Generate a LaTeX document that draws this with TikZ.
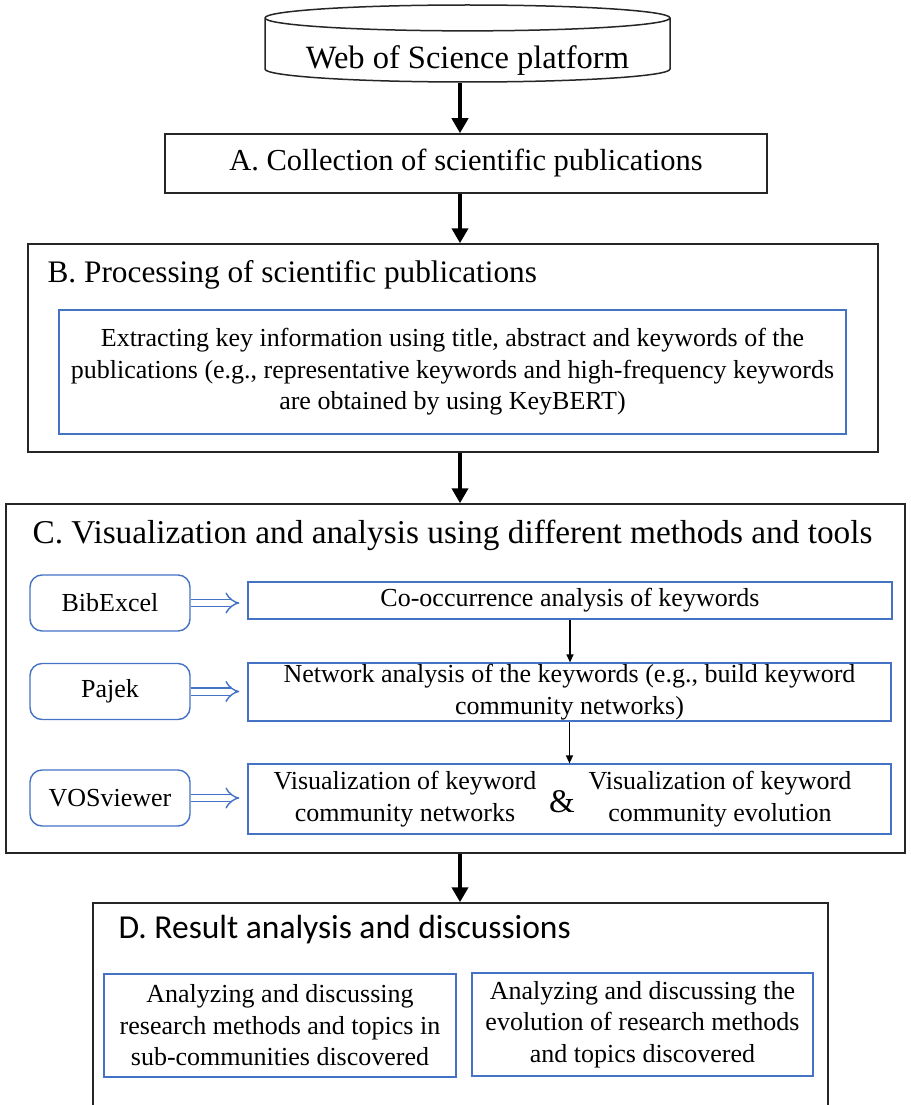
\documentclass[tikz,border=0pt]{standalone}
\usepackage{fontspec}
\setmainfont{Liberation Serif}
\newfontfamily\calibrifont{Carlito}
\usetikzlibrary{shapes.geometric,arrows.meta,positioning}

\definecolor{boxblue}{RGB}{68,114,196}
\tikzset{every picture/.style={line width=1.2pt}}
\tikzset{
  stagebox/.style={draw=black!85, line width=1.5pt, rectangle, inner sep=0pt},
  infobox/.style={draw=boxblue, line width=1.2pt, rectangle, align=center, inner sep=0pt, font=\fontsize{26}{31.5}\selectfont},
  toolbox/.style={draw=boxblue, line width=1.4pt, rounded corners=12pt, minimum width=160pt, minimum height=56pt, inner sep=0pt, font=\fontsize{26}{30}\selectfont},
  stagetitle/.style={anchor=west, inner sep=0pt, font=\fontsize{31.3}{36}\selectfont},
  plaintext/.style={inner sep=0pt, align=center, font=\fontsize{26}{31.5}\selectfont},
  bigarrow/.style={line width=4.5pt, -{Triangle[length=15pt,width=16pt]}},
  thinarrow/.style={line width=1.2pt, -{Triangle[length=8pt,width=7pt]}},
  toolarrow/.style={draw=boxblue, line width=1.4pt, double=white, double distance=6pt, -{Implies}, shorten >=8pt},
}

\begin{document}
\begin{tikzpicture}[x=1pt,y=1pt,yscale=-1,xscale=1]
		\useasboundingbox (0,0) rectangle (910,1105);
		\clip (0,0) rectangle (910,1105);
		\coordinate (spine) at (460,0);
		
		%Shape: Can
		\node[cylinder, shape border rotate=90, draw=black!85, line width=1.5pt, aspect=0.08, minimum width=405pt, minimum height=77pt, inner sep=0pt, anchor=shape center, font=\fontsize{32.5}{36}\selectfont] (wos) at (467.5,43.5) {\raisebox{-18.5pt}[0pt][0pt]{Web of Science platform}};
		
		%Shape: Rectangle
		\node[stagebox, minimum width=602pt, minimum height=59pt, font=\fontsize{30.5}{36}\selectfont] (collect) at (466,163.5) {A. Collection of scientific publications};
		
		%Shape: Rectangle
		\node[stagebox, minimum width=850pt, minimum height=208pt] (process) at (453,348) {};
		% Text Node
		\node[stagetitle] (proctitle) at (47,275) {B. Processing of scientific publications};
		%Shape: Rectangle
		\node[infobox, minimum width=787pt, minimum height=124pt] (extract) at (452.5,372) {Extracting key information using title, abstract and keywords of the\\publications (e.g., representative keywords and high-frequency keywords\\are obtained by using KeyBERT)};
		
		%Shape: Rectangle
		\node[stagebox, minimum width=899pt, minimum height=349pt] (visual) at (455.5,678.5) {};
		% Text Node
		\node[stagetitle, font=\fontsize{33.3}{38}\selectfont] (vistitle) at (32,535) {C. Visualization and analysis using different methods and tools};
		
		%Rounded Rect
		\node[toolbox] (bibexcel) at (110,603) {BibExcel};
		%Rounded Rect
		\node[toolbox] (pajek) at (110,691.5) {Pajek};
		%Rounded Rect
		\node[toolbox] (vosviewer) at (110,798) {VOSviewer};
		
		%Shape: Rectangle
		\node[infobox, minimum width=644pt, minimum height=37pt] (cooccur) at (570,600.5) {Co-occurrence analysis of keywords};
		%Shape: Rectangle
		\node[infobox, minimum width=643pt, minimum height=58pt] (network) at (569.5,692) {Network analysis of the keywords (e.g., build keyword\\community networks)};
		%Shape: Rectangle
		\node[infobox, minimum width=643pt, minimum height=70pt] (vizbox) at (569.5,799) {};
		% Text Node
		\node[plaintext] (vizleft) at (405,799) {Visualization of keyword\\community networks};
		% Text Node
		\node[plaintext] (vizright) at (720,799) {Visualization of keyword\\community evolution};
		% Text Node
		\node[plaintext, font=\fontsize{33}{36}\selectfont] (amp) at (562,802) {\&};
		
		%Shape: Rectangle
		\node[stagebox, minimum width=735pt, minimum height=210pt] (result) at (460.5,1008) {};
		% Text Node
		\node[stagetitle, font=\calibrifont\fontsize{33.5}{38}\selectfont] (restitle) at (118,930) {D. Result analysis and discussions};
		%Shape: Rectangle
		\node[infobox, minimum width=352pt, minimum height=103pt] (subcom) at (280,1025.5) {Analyzing and discussing\\research methods and topics in\\sub-communities discovered};
		%Shape: Rectangle
		\node[infobox, minimum width=341pt, minimum height=103pt] (evolution) at (642.5,1024.5) {Analyzing and discussing the\\evolution of research methods\\and topics discovered};
		
		%Straight Lines
		\draw[bigarrow] (spine |- wos.south) -- (spine |- collect.north);
		%Straight Lines
		\draw[bigarrow] (spine |- collect.south) -- (spine |- process.north);
		%Straight Lines
		\draw[bigarrow] (spine |- process.south) -- (spine |- visual.north);
		%Straight Lines
		\draw[bigarrow] (spine |- visual.south) -- (spine |- result.north);
		
		%Straight Lines
		\draw[thinarrow] (cooccur.south) -- (cooccur.south |- network.north);
		%Straight Lines
		\draw[thinarrow] (network.south) -- (network.south |- vizbox.north);
		
		%Double Arrows
		\draw[toolarrow] (bibexcel.east) -- (bibexcel.east -| cooccur.west);
		\draw[toolarrow] (pajek.east) -- (pajek.east -| network.west);
		\draw[toolarrow] (vosviewer.east) -- (vosviewer.east -| vizbox.west);
		
	\end{tikzpicture}
\end{document}
